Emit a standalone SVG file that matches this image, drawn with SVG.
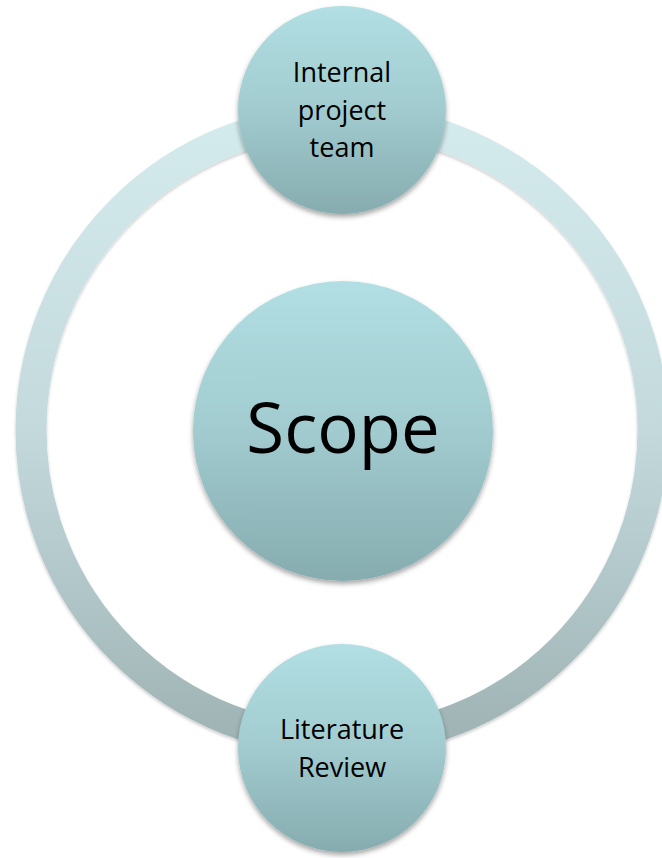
<svg xmlns="http://www.w3.org/2000/svg" width="662" height="858" viewBox="0 0 662 858">
<style>
.lbl{font-family:"Open Sans","Liberation Sans",sans-serif;fill:#000;text-anchor:middle}
.sm{font-size:27px}
.big{font-size:69px}
.node{fill:url(#nodeGrad);filter:url(#sh)}
</style>
<defs>
<linearGradient id="nodeGrad" x1="0" y1="0" x2="0" y2="1">
<stop offset="0" stop-color="#b1dfe3"/>
<stop offset="0.5" stop-color="#a1cbcf"/>
<stop offset="1" stop-color="#86acaf"/>
</linearGradient>
<linearGradient id="ringGrad" gradientUnits="userSpaceOnUse" x1="0" y1="119" x2="0" y2="741">
<stop offset="0" stop-color="#d4ebed"/>
<stop offset="0.5" stop-color="#c3d9dc"/>
<stop offset="1" stop-color="#9fb3b4"/>
</linearGradient>
<filter id="sh" x="-20%" y="-20%" width="140%" height="140%">
<feDropShadow dx="0" dy="3" stdDeviation="2.5" flood-color="#000" flood-opacity="0.35"/>
</filter>
<filter id="rsh" x="-10%" y="-10%" width="120%" height="120%">
<feDropShadow dx="0" dy="2" stdDeviation="1.5" flood-color="#000" flood-opacity="0.2"/>
</filter>
</defs>
<g id="connectors">
<circle cx="342" cy="430" r="311" fill="none" stroke="url(#ringGrad)" stroke-width="31" filter="url(#rsh)"/>
</g>
<g id="scope">
<circle class="node" cx="343" cy="431" r="150"/>
<text class="lbl big" x="343" y="453">Scope</text>
</g>
<g id="internal">
<circle class="node" cx="342" cy="110" r="104"/>
<text class="lbl sm" x="342" y="82">Internal</text>
<text class="lbl sm" x="342" y="120">project</text>
<text class="lbl sm" x="342" y="157">team</text>
</g>
<g id="literature">
<circle class="node" cx="342" cy="748" r="104"/>
<text class="lbl sm" x="342" y="739">Literature</text>
<text class="lbl sm" x="342" y="777">Review</text>
</g>
</svg>
